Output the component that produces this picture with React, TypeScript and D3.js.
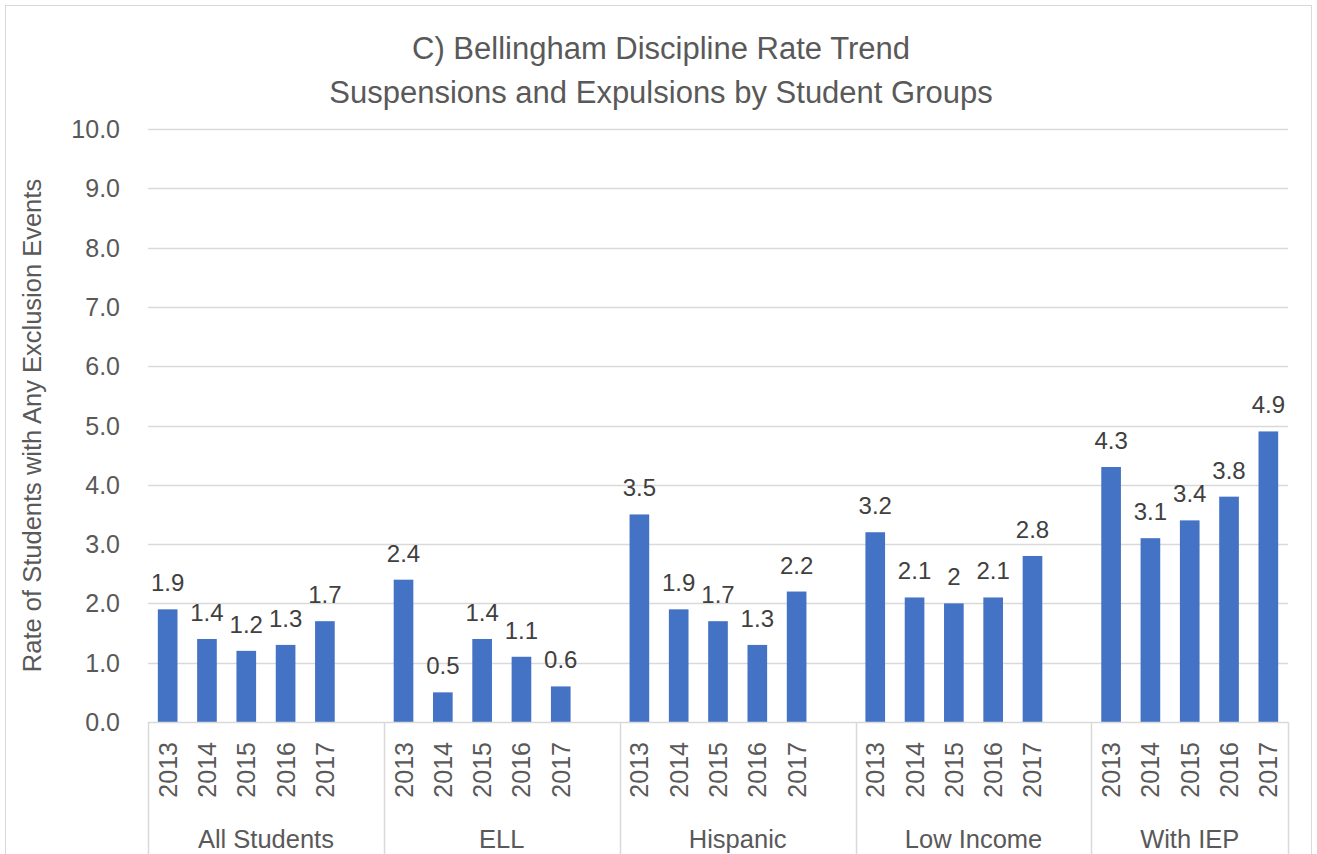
import { useEffect, useRef } from "react"
import * as d3 from "d3"

const groups = ["All Students", "ELL", "Hispanic", "Low Income", "With IEP"]
const years = ["2013", "2014", "2015", "2016", "2017"]
const allStudents = [1.9, 1.4, 1.2, 1.3, 1.7]
const ell = [2.4, 0.5, 1.4, 1.1, 0.6]
const hispanic = [3.5, 1.9, 1.7, 1.3, 2.2]
const lowIncome = [3.2, 2.1, 2, 2.1, 2.8]
const withIep = [4.3, 3.1, 3.4, 3.8, 4.9]
const yTicks = [0, 1, 2, 3, 4, 5, 6, 7, 8, 9, 10]

const seriesByGroup = [allStudents, ell, hispanic, lowIncome, withIep]

const width = 1317
const height = 854
const font = "'Liberation Sans', Arial, sans-serif"
const textColor = "#595959"
const gridColor = "#d9d9d9"
const barColor = "#4472C4"

export default function App() {
  const svgRef = useRef<SVGSVGElement>(null)

  useEffect(() => {
    const svg = d3.select(svgRef.current)
    svg.selectAll("*").remove()

    const left = 148
    const right = 1288
    const top = 129
    const bottom = 722

    // slots: 5 years per group, plus one empty slot between groups
    const slots: string[] = []
    groups.forEach((g, gi) => {
      years.forEach((yr) => slots.push(`${g}|${yr}`))
      if (gi < groups.length - 1) slots.push(`${g}|gap`)
    })

    const x = d3.scaleBand<string>().domain(slots).range([left, right]).padding(0)
    const y = d3.scaleLinear().domain([0, 10]).range([bottom, top])
    const bw = x.bandwidth()

    // outer border
    svg
      .append("rect")
      .attr("x", 5.5)
      .attr("y", 5.5)
      .attr("width", 1306)
      .attr("height", 860)
      .attr("fill", "white")
      .attr("stroke", gridColor)
      .attr("stroke-width", 1)

    // title
    const title = svg
      .append("text")
      .attr("text-anchor", "middle")
      .attr("font-family", font)
      .attr("font-size", 31)
      .attr("fill", textColor)
    title.append("tspan").attr("x", 661).attr("y", 59).text("C) Bellingham Discipline Rate Trend")
    title.append("tspan").attr("x", 661).attr("y", 103).text("Suspensions and Expulsions by Student Groups")

    // gridlines
    svg
      .append("g")
      .selectAll("line")
      .data(yTicks.filter((t) => t > 0))
      .enter()
      .append("line")
      .attr("x1", left)
      .attr("x2", right)
      .attr("y1", (d) => Math.round(y(d)) + 0.5)
      .attr("y2", (d) => Math.round(y(d)) + 0.5)
      .attr("stroke", gridColor)
      .attr("stroke-width", 1.5)

    // y tick labels
    svg
      .append("g")
      .selectAll("text")
      .data(yTicks)
      .enter()
      .append("text")
      .attr("x", 120)
      .attr("y", (d) => y(d))
      .attr("dy", "0.36em")
      .attr("text-anchor", "end")
      .attr("font-family", font)
      .attr("font-size", 25)
      .attr("fill", textColor)
      .text((d) => d3.format(".1f")(d))

    // y axis title
    svg
      .append("text")
      .attr("transform", `translate(32,${(top + bottom) / 2}) rotate(-90)`)
      .attr("dy", "0.36em")
      .attr("text-anchor", "middle")
      .attr("font-family", font)
      .attr("font-size", 25.5)
      .attr("fill", textColor)
      .text("Rate of Students with Any Exclusion Events")

    // bars
    const bars = groups.flatMap((g, gi) =>
      years.map((yr, yi) => ({ key: `${g}|${yr}`, year: yr, value: seriesByGroup[gi][yi] }))
    )

    svg
      .append("g")
      .selectAll("rect")
      .data(bars)
      .enter()
      .append("rect")
      .attr("x", (d) => x(d.key)! + bw * 0.25)
      .attr("width", bw * 0.5)
      .attr("y", (d) => y(d.value))
      .attr("height", (d) => y(0) - y(d.value))
      .attr("fill", barColor)

    // data labels
    svg
      .append("g")
      .selectAll("text")
      .data(bars)
      .enter()
      .append("text")
      .attr("x", (d) => x(d.key)! + bw / 2)
      .attr("y", (d) => y(d.value) - 18)
      .attr("text-anchor", "middle")
      .attr("font-family", font)
      .attr("font-size", 24)
      .attr("fill", "#404040")
      .text((d) => String(d.value))

    // axis line
    svg
      .append("line")
      .attr("x1", left)
      .attr("x2", right)
      .attr("y1", bottom + 0.5)
      .attr("y2", bottom + 0.5)
      .attr("stroke", gridColor)
      .attr("stroke-width", 1.5)

    // year labels
    svg
      .append("g")
      .selectAll("text")
      .data(bars)
      .enter()
      .append("text")
      .attr("transform", (d) => `translate(${x(d.key)! + bw / 2},742) rotate(-90)`)
      .attr("dy", "0.36em")
      .attr("text-anchor", "end")
      .attr("font-family", font)
      .attr("font-size", 25)
      .attr("fill", textColor)
      .text((d) => d.year)

    // group separators
    const groupStarts = groups.map((g) => x(`${g}|2013`)!)
    const bounds = [...groupStarts, right]
    svg
      .append("g")
      .selectAll("line")
      .data(bounds)
      .enter()
      .append("line")
      .attr("x1", (d) => Math.round(d) + 0.5)
      .attr("x2", (d) => Math.round(d) + 0.5)
      .attr("y1", bottom)
      .attr("y2", height)
      .attr("stroke", gridColor)
      .attr("stroke-width", 1.5)

    // group labels
    svg
      .append("g")
      .selectAll("text")
      .data(groups)
      .enter()
      .append("text")
      .attr("x", (d, i) => (bounds[i] + bounds[i + 1]) / 2)
      .attr("y", 848)
      .attr("text-anchor", "middle")
      .attr("font-family", font)
      .attr("font-size", 25.5)
      .attr("fill", textColor)
      .text((d) => d)
  }, [])

  return (
    <div style={{ position: "absolute", left: 0, top: 0 }}>
      <svg ref={svgRef} width={width} height={height} style={{ display: "block" }} />
    </div>
  )
}
